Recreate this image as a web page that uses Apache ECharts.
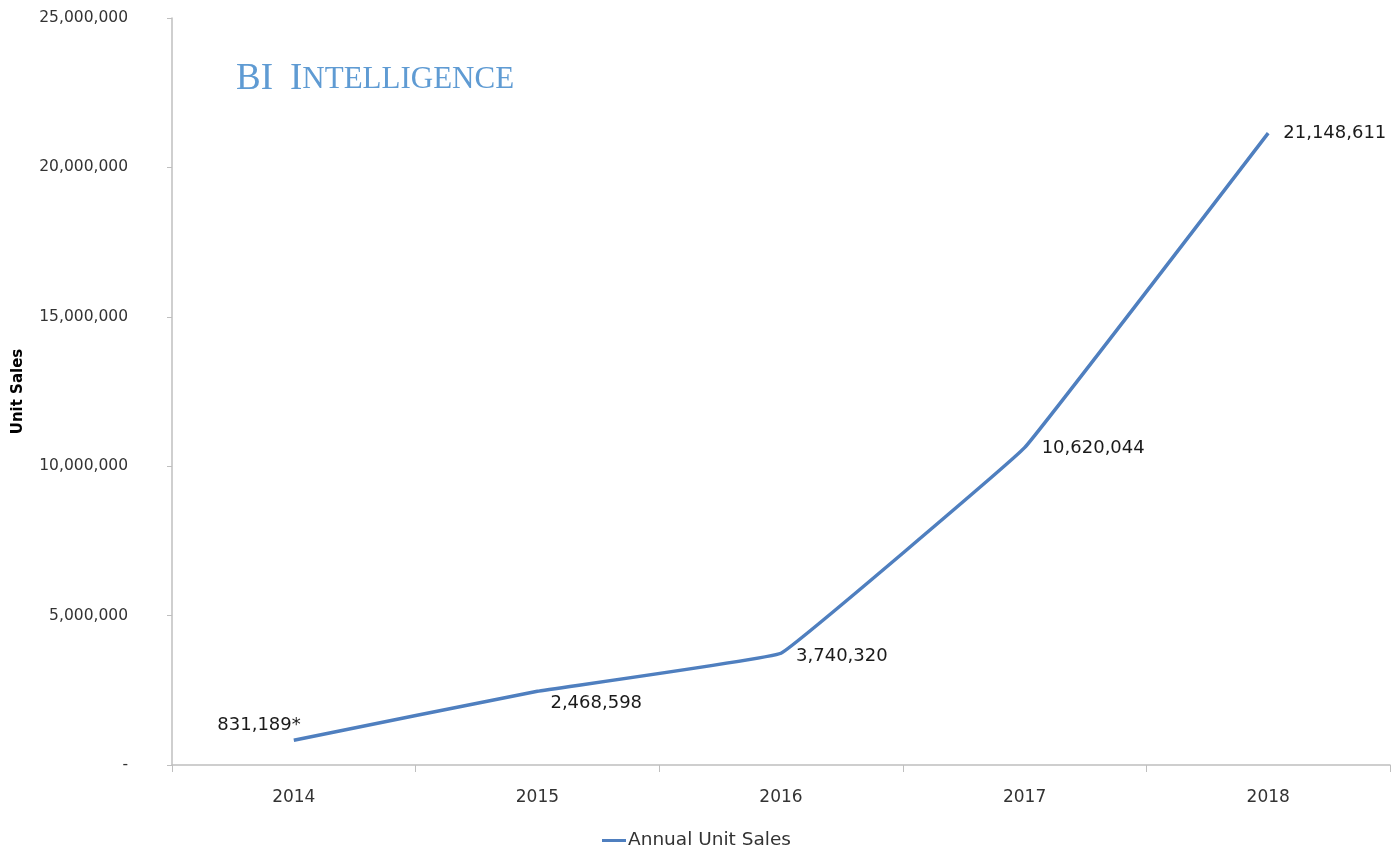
<!DOCTYPE html>
<html>
<head>
<meta charset="utf-8">
<script src="https://cdn.jsdelivr.net/npm/echarts@6/dist/echarts.min.js"></script>
<style>html,body{margin:0;padding:0;background:#fff}#c{width:1393px;height:855px}</style>
</head>
<body>
<div id="c"></div>
<script>
const years = ['2014', '2015', '2016', '2017', '2018'];
const unitSales = [831189, 2468598, 3740320, 10620044, 21148611];
const labelNotes = ['*', '', '', '', ''];
const seriesName = 'Annual Unit Sales';
const yTicks = [0, 5000000, 10000000, 15000000, 20000000, 25000000];

const fmt = v => v.toString().replace(/\B(?=(\d{3})+(?!\d))/g, ',');
const labelCfg = [
  {position: 'left', distance: 5, offset: [12, -15]},
  {position: 'right', distance: 13, offset: [0, 12]},
  {position: 'right', distance: 15, offset: [0, 3]},
  {position: 'right', distance: 17, offset: [0, 1]},
  {position: 'right', distance: 15, offset: [0, 0]}
];
const chart = echarts.init(document.getElementById('c'));
const textColor = '#333';
chart.setOption({
  animation: false,
  title: {
    text: '{a|BI}{s|}{a|I}{b|NTELLIGENCE}',
    left: 231, top: 56,
    textStyle: {
      rich: {
        a: {fontFamily: 'Liberation Serif', fontSize: 37, fontWeight: 'normal', color: '#5f9bd3'},
        s: {width: 17},
        b: {fontFamily: 'Liberation Serif', fontSize: 31, fontWeight: 'normal', color: '#5f9bd3'}
      }
    }
  },
  grid: {left: 172, right: 3, top: 18, bottom: 90, containLabel: false},
  legend: {
    bottom: 0, left: 'center',
    icon: 'rect', itemWidth: 24, itemHeight: 3, itemGap: 4,
    textStyle: {fontFamily: 'DejaVu Sans', fontSize: 18.5, color: textColor, padding: [0,0,0,-3]},
    data: [seriesName]
  },
  xAxis: {
    type: 'category', data: years, boundaryGap: true,
    axisLine: {lineStyle: {color: '#bfbfbf', width: 1.5}},
    axisTick: {show: true, length: 7, lineStyle: {color: '#bfbfbf'}},
    axisLabel: {fontFamily: 'DejaVu Sans', fontSize: 17, color: textColor, margin: 24}
  },
  yAxis: {
    type: 'value', min: 0, max: 25000000, interval: 5000000,
    name: 'Unit Sales', nameLocation: 'middle', nameGap: 146, nameRotate: 90,
    nameTextStyle: {fontFamily: 'DejaVu Sans', fontSize: 15, fontWeight: 'bold', color: '#000'},
    axisLine: {show: true, lineStyle: {color: '#bfbfbf', width: 1.5}},
    axisTick: {show: true, length: 5, lineStyle: {color: '#bfbfbf'}},
    splitLine: {show: false},
    axisLabel: {
      fontFamily: 'DejaVu Sans', fontSize: 15.5, color: textColor, margin: 44,
      formatter: v => v === 0 ? '-' : fmt(v)
    }
  },
  series: [{
    name: seriesName, type: 'line', smooth: 0.05,
    symbol: 'circle', symbolSize: 0.1, showSymbol: true,
    lineStyle: {color: '#4f7fbf', width: 3.5},
    itemStyle: {color: '#4f7fbf'},
    data: unitSales.map((v, i) => ({
      value: v,
      label: Object.assign({
        show: true, fontFamily: 'DejaVu Sans', fontSize: 18, color: '#1a1a1a',
        formatter: fmt(v) + labelNotes[i]
      }, labelCfg[i])
    }))
  }]
});
</script>
</body>
</html>
